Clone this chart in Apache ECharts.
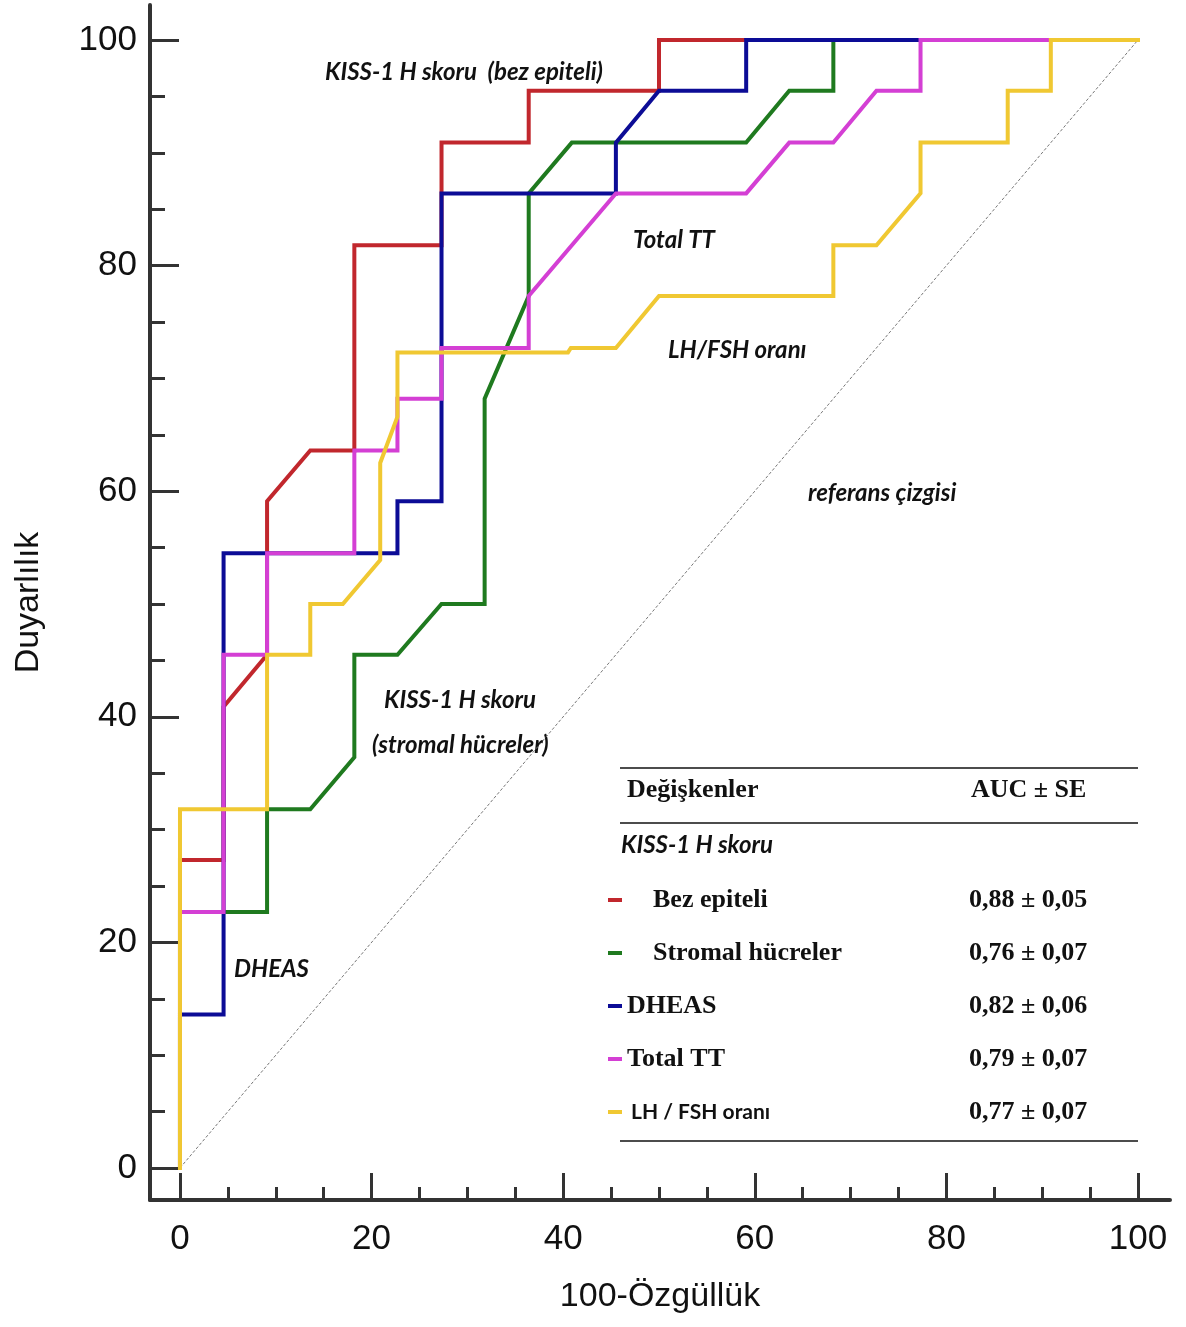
<!DOCTYPE html>
<html><head><meta charset="utf-8">
<script src="https://cdn.jsdelivr.net/npm/echarts@6/dist/echarts.min.js"></script>
<style>html,body{margin:0;padding:0;background:#fff}#c{width:1186px;height:1327px}</style>
</head><body><div id="c"></div>
<script>
// ---- data ----
const majorTicks = [0, 20, 40, 60, 80, 100];
const minorTicks = [5, 10, 15, 25, 30, 35, 45, 50, 55, 65, 70, 75, 85, 90, 95];

const refX = [0, 100];
const refY = [0, 100];

const bezX = [0, 0, 4.55, 4.55, 9.09, 9.09, 13.6, 18.2, 18.2, 27.3, 27.3, 36.4, 36.4, 50, 50, 100];
const bezY = [0, 27.3, 27.3, 40.9, 45.5, 59.1, 63.6, 63.6, 81.8, 81.8, 90.9, 90.9, 95.5, 95.5, 100, 100];

const stromaX = [0, 0, 9.09, 9.09, 13.6, 18.2, 18.2, 22.7, 27.3, 31.8, 31.8, 36.4, 36.4, 40.9, 59.1, 63.6, 68.2, 68.2, 100];
const stromaY = [0, 22.7, 22.7, 31.8, 31.8, 36.4, 45.5, 45.5, 50, 50, 68.2, 77.3, 86.4, 90.9, 90.9, 95.5, 95.5, 100, 100];

const dheasX = [0, 0, 4.55, 4.55, 22.7, 22.7, 27.3, 27.3, 45.5, 45.5, 50, 59.1, 59.1, 100];
const dheasY = [0, 13.6, 13.6, 54.5, 54.5, 59.1, 59.1, 86.4, 86.4, 90.9, 95.5, 95.5, 100, 100];

const ttX = [0, 0, 4.55, 4.55, 9.09, 9.09, 18.2, 18.2, 22.7, 22.7, 27.3, 27.3, 36.4, 36.4, 45.5, 59.1, 63.6, 68.2, 72.7, 77.3, 77.3, 100];
const ttY = [0, 22.7, 22.7, 45.5, 45.5, 54.5, 54.5, 63.6, 63.6, 68.2, 68.2, 72.7, 72.7, 77.3, 86.4, 86.4, 90.9, 90.9, 95.5, 95.5, 100, 100];

const lhX = [0, 0, 9.09, 9.09, 13.6, 13.6, 17.0, 20.9, 20.9, 22.7, 22.7, 40.5, 40.8, 45.5, 50, 68.2, 68.2, 72.7, 77.3, 77.3, 86.4, 86.4, 90.9, 90.9, 100];
const lhY = [0, 31.8, 31.8, 45.5, 45.5, 50, 50, 53.9, 62.5, 66.6, 72.3, 72.3, 72.7, 72.7, 77.3, 77.3, 81.8, 81.8, 86.4, 90.9, 90.9, 95.5, 95.5, 100, 100];

const seriesNames = ['Bez epiteli', 'Stromal hücreler', 'DHEAS', 'Total TT', 'LH / FSH oranı'];
const aucLabels = ['0,88 ± 0,05', '0,76 ± 0,07', '0,82 ± 0,06', '0,79 ± 0,07', '0,77 ± 0,07'];
const seriesColors = ['#C1272D', '#1F7A1F', '#0C0C96', '#D43FD4', '#F0C832'];

// ---- chart ----
const pts = (xs, ys) => xs.map((x, i) => [x, ys[i]]);
const sansF = "'Liberation Sans', Arial, sans-serif";
const serifF = "'Liberation Serif', 'Times New Roman', serif";
const annFont = "italic bold 24px Lato, 'Open Sans', sans-serif";
const serifB = "bold 26px 'Liberation Serif', 'Times New Roman', serif";

const xs = [bezX, stromaX, dheasX, ttX, lhX];
const ys = [bezY, stromaY, dheasY, ttY, lhY];

const series = [{
  type: 'line', name: 'ref', data: pts(refX, refY), showSymbol: false, silent: true,
  lineStyle: { color: '#777', width: 1, type: [3, 2] }, z: 1
}];
seriesNames.forEach((n, i) => series.push({
  type: 'line', name: n, data: pts(xs[i], ys[i]), showSymbol: false, symbol: 'none',
  lineStyle: { color: seriesColors[i], width: 4, cap: 'square', join: 'miter' },
  itemStyle: { color: seriesColors[i] }, z: 2 + i
}));

const tickStyle = { color: '#333', width: 3 };
const axisBase = { type: 'value', splitLine: { show: false } };
const rs = (w, fam, size, weight) => ({ width: w, fontFamily: fam, fontSize: size, fontWeight: weight, color: '#111', lineHeight: 30 });

const option = {
  animation: false,
  backgroundColor: '#fff',
  grid: { left: 150, right: 16, top: 5, bottom: 127, containLabel: false },
  xAxis: [
    Object.assign({}, axisBase, {
      min: -3.13, max: 103.34, position: 'bottom',
      axisLine: { show: true, onZero: false, lineStyle: { color: '#333', width: 4 } },
      axisTick: { show: true, inside: true, length: 27, customValues: majorTicks, lineStyle: tickStyle },
      axisLabel: { customValues: majorTicks, margin: 22, fontSize: 35, fontFamily: sansF, color: '#111' },
      name: '100-Özgüllük', nameLocation: 'middle', nameGap: 80,
      nameTextStyle: { fontSize: 34, fontFamily: sansF, color: '#111' }
    }),
    Object.assign({}, axisBase, {
      min: -3.13, max: 103.34, position: 'bottom',
      axisLine: { show: false, onZero: false },
      axisTick: { show: true, inside: true, length: 13, customValues: minorTicks, lineStyle: tickStyle },
      axisLabel: { show: false }
    })
  ],
  yAxis: [
    Object.assign({}, axisBase, {
      min: -2.84, max: 103.1, position: 'left',
      axisLine: { show: true, onZero: false, lineStyle: { color: '#333', width: 4 } },
      axisTick: { show: true, inside: true, length: 29, customValues: majorTicks, lineStyle: tickStyle },
      axisLabel: { customValues: majorTicks, margin: 13, fontSize: 35, fontFamily: sansF, color: '#111' },
      name: 'Duyarlılık', nameLocation: 'middle', nameGap: 104,
      nameTextStyle: { fontSize: 34, fontFamily: sansF, color: '#111' }
    }),
    Object.assign({}, axisBase, {
      min: -2.84, max: 103.1, position: 'left',
      axisLine: { show: false, onZero: false },
      axisTick: { show: true, inside: true, length: 15, customValues: minorTicks, lineStyle: tickStyle },
      axisLabel: { show: false }
    })
  ],
  legend: {
    orient: 'vertical', left: 603, top: 880, itemWidth: 14, itemHeight: 4, itemGap: 23,
    icon: 'rect', selectedMode: false, data: seriesNames,
    formatter: function (name) {
      const i = seriesNames.indexOf(name);
      if (i < 2) return '{p2| }{n2|' + name + '}{v|' + aucLabels[i] + '}';
      if (i === 4) return '{p3| }{n3|' + name + '}{v|' + aucLabels[i] + '}';
      return '{n1|' + name + '}{v|' + aucLabels[i] + '}';
    },
    textStyle: {
      fontSize: 26, lineHeight: 30, color: '#111',
      rich: {
        p2: rs(26, serifF, 26, 'bold'),
        p3: rs(4, serifF, 26, 'bold'),
        n1: rs(342, serifF, 26, 'bold'),
        n2: rs(316, serifF, 26, 'bold'),
        n3: rs(338, "Lato, 'Open Sans', sans-serif", 21, 'bold'),
        v: rs(130, serifF, 26, 'bold')
      }
    }
  },
  graphic: [
    { type: 'text', style: { text: 'KISS-1 H skoru  (bez epiteli)', x: 325, y: 72, font: annFont, fill: '#111', verticalAlign: 'middle' } },
    { type: 'text', style: { text: 'Total TT', x: 633, y: 240, font: annFont, fill: '#111', verticalAlign: 'middle' } },
    { type: 'text', style: { text: 'LH/FSH oranı', x: 668, y: 350, font: annFont, fill: '#111', verticalAlign: 'middle' } },
    { type: 'text', style: { text: 'referans çizgisi', x: 808, y: 493, font: annFont, fill: '#111', verticalAlign: 'middle' } },
    { type: 'text', style: { text: 'KISS-1 H skoru', x: 384, y: 700, font: annFont, fill: '#111', verticalAlign: 'middle' } },
    { type: 'text', style: { text: '(stromal hücreler)', x: 372, y: 745, font: annFont, fill: '#111', verticalAlign: 'middle' } },
    { type: 'text', style: { text: 'DHEAS', x: 234, y: 969, font: annFont, fill: '#111', verticalAlign: 'middle' } },
    { type: 'line', shape: { x1: 620, y1: 768, x2: 1138, y2: 768 }, style: { stroke: '#111', lineWidth: 1.5 } },
    { type: 'line', shape: { x1: 620, y1: 823, x2: 1138, y2: 823 }, style: { stroke: '#111', lineWidth: 1.5 } },
    { type: 'line', shape: { x1: 620, y1: 1141, x2: 1138, y2: 1141 }, style: { stroke: '#111', lineWidth: 1.5 } },
    { type: 'text', style: { text: 'Değişkenler', x: 627, y: 790, font: serifB, fill: '#111', verticalAlign: 'middle' } },
    { type: 'text', style: { text: 'AUC ± SE', x: 971, y: 790, font: serifB, fill: '#111', verticalAlign: 'middle' } },
    { type: 'text', style: { text: 'KISS-1 H skoru', x: 621, y: 845, font: annFont, fill: '#111', verticalAlign: 'middle' } }
  ],
  series: series
};

const chart = echarts.init(document.getElementById('c'), null, { renderer: 'canvas' });
chart.setOption(option);
</script>
</body></html>
